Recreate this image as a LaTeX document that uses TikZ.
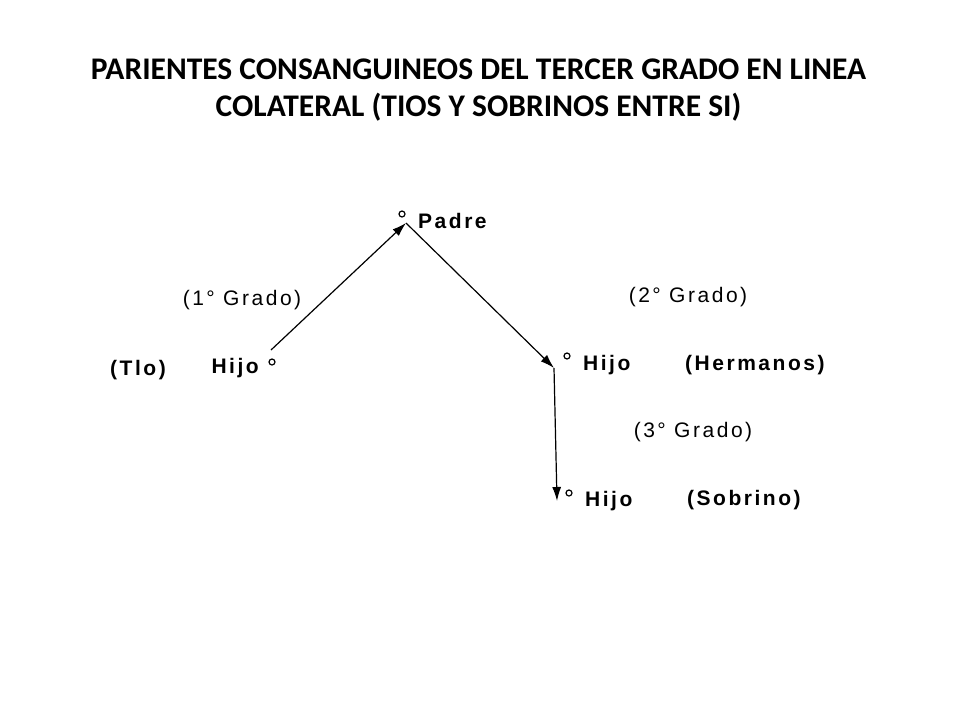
\documentclass[tikz,border=0pt]{standalone}
\usepackage{fontspec}
\setmainfont{Carlito}
\newfontfamily\diagfont[LetterSpace=12]{Liberation Sans}
\usetikzlibrary{arrows.meta}

\begin{document}
\begin{tikzpicture}[x=1pt,y=-1pt,
    dot/.style={circle,draw,line width=1.2pt,inner sep=0pt,minimum size=6pt},
    person/.style={font=\diagfont\fontsize{21}{21}\selectfont\bfseries,inner sep=0pt},
    grado/.style={font=\diagfont\fontsize{21}{21}\selectfont,inner sep=0pt},
    arr/.style={line width=1.2pt,-{Latex[length=14pt,width=9pt]}}]
    \useasboundingbox (0,0) rectangle (960,720);
    \node[font=\fontsize{31.5}{37}\selectfont\bfseries,align=center] (title) at (478.5,90.5)
    {PARIENTES CONSANGUINEOS DEL TERCER GRADO EN LINEA\\COLATERAL (TIOS Y SOBRINOS ENTRE SI)};
    % nodes
    \node[dot] (dpadre) at (402,214) {};
    \node[person,anchor=west] (padre) at (418,221) {Padre};
    \node[dot] (dtio) at (272,362) {};
    \node[person,anchor=east] (hijotio) at (259,368) {Hijo};
    \node[person,anchor=east] (tio) at (166,370) {(Tlo)};
    \node[dot] (dherm) at (567,356) {};
    \node[person,anchor=west] (hijoherm) at (583,365) {Hijo};
    \node[person,anchor=west] (herm) at (685,365) {(Hermanos)};
    \node[dot] (dsob) at (569,493) {};
    \node[person,anchor=west] (hijosob) at (585,501) {Hijo};
    \node[person,anchor=west] (sob) at (687,500) {(Sobrino)};
    \node[grado] (g1) at (242,300) {(1° Grado)};
    \node[grado] (g2) at (688,297) {(2° Grado)};
    \node[grado] (g3) at (693,432) {(3° Grado)};
    % connectors
    \coordinate (start) at (271,350);
    \coordinate (top) at (406,223);
    \coordinate (mid) at (554,368);
    \coordinate (low) at (557,501);
    \draw[arr] (start) -- (top);
    \draw[arr] (top) -- (mid);
    \draw[arr] (mid) -- (low);
  \end{tikzpicture}
\end{document}
